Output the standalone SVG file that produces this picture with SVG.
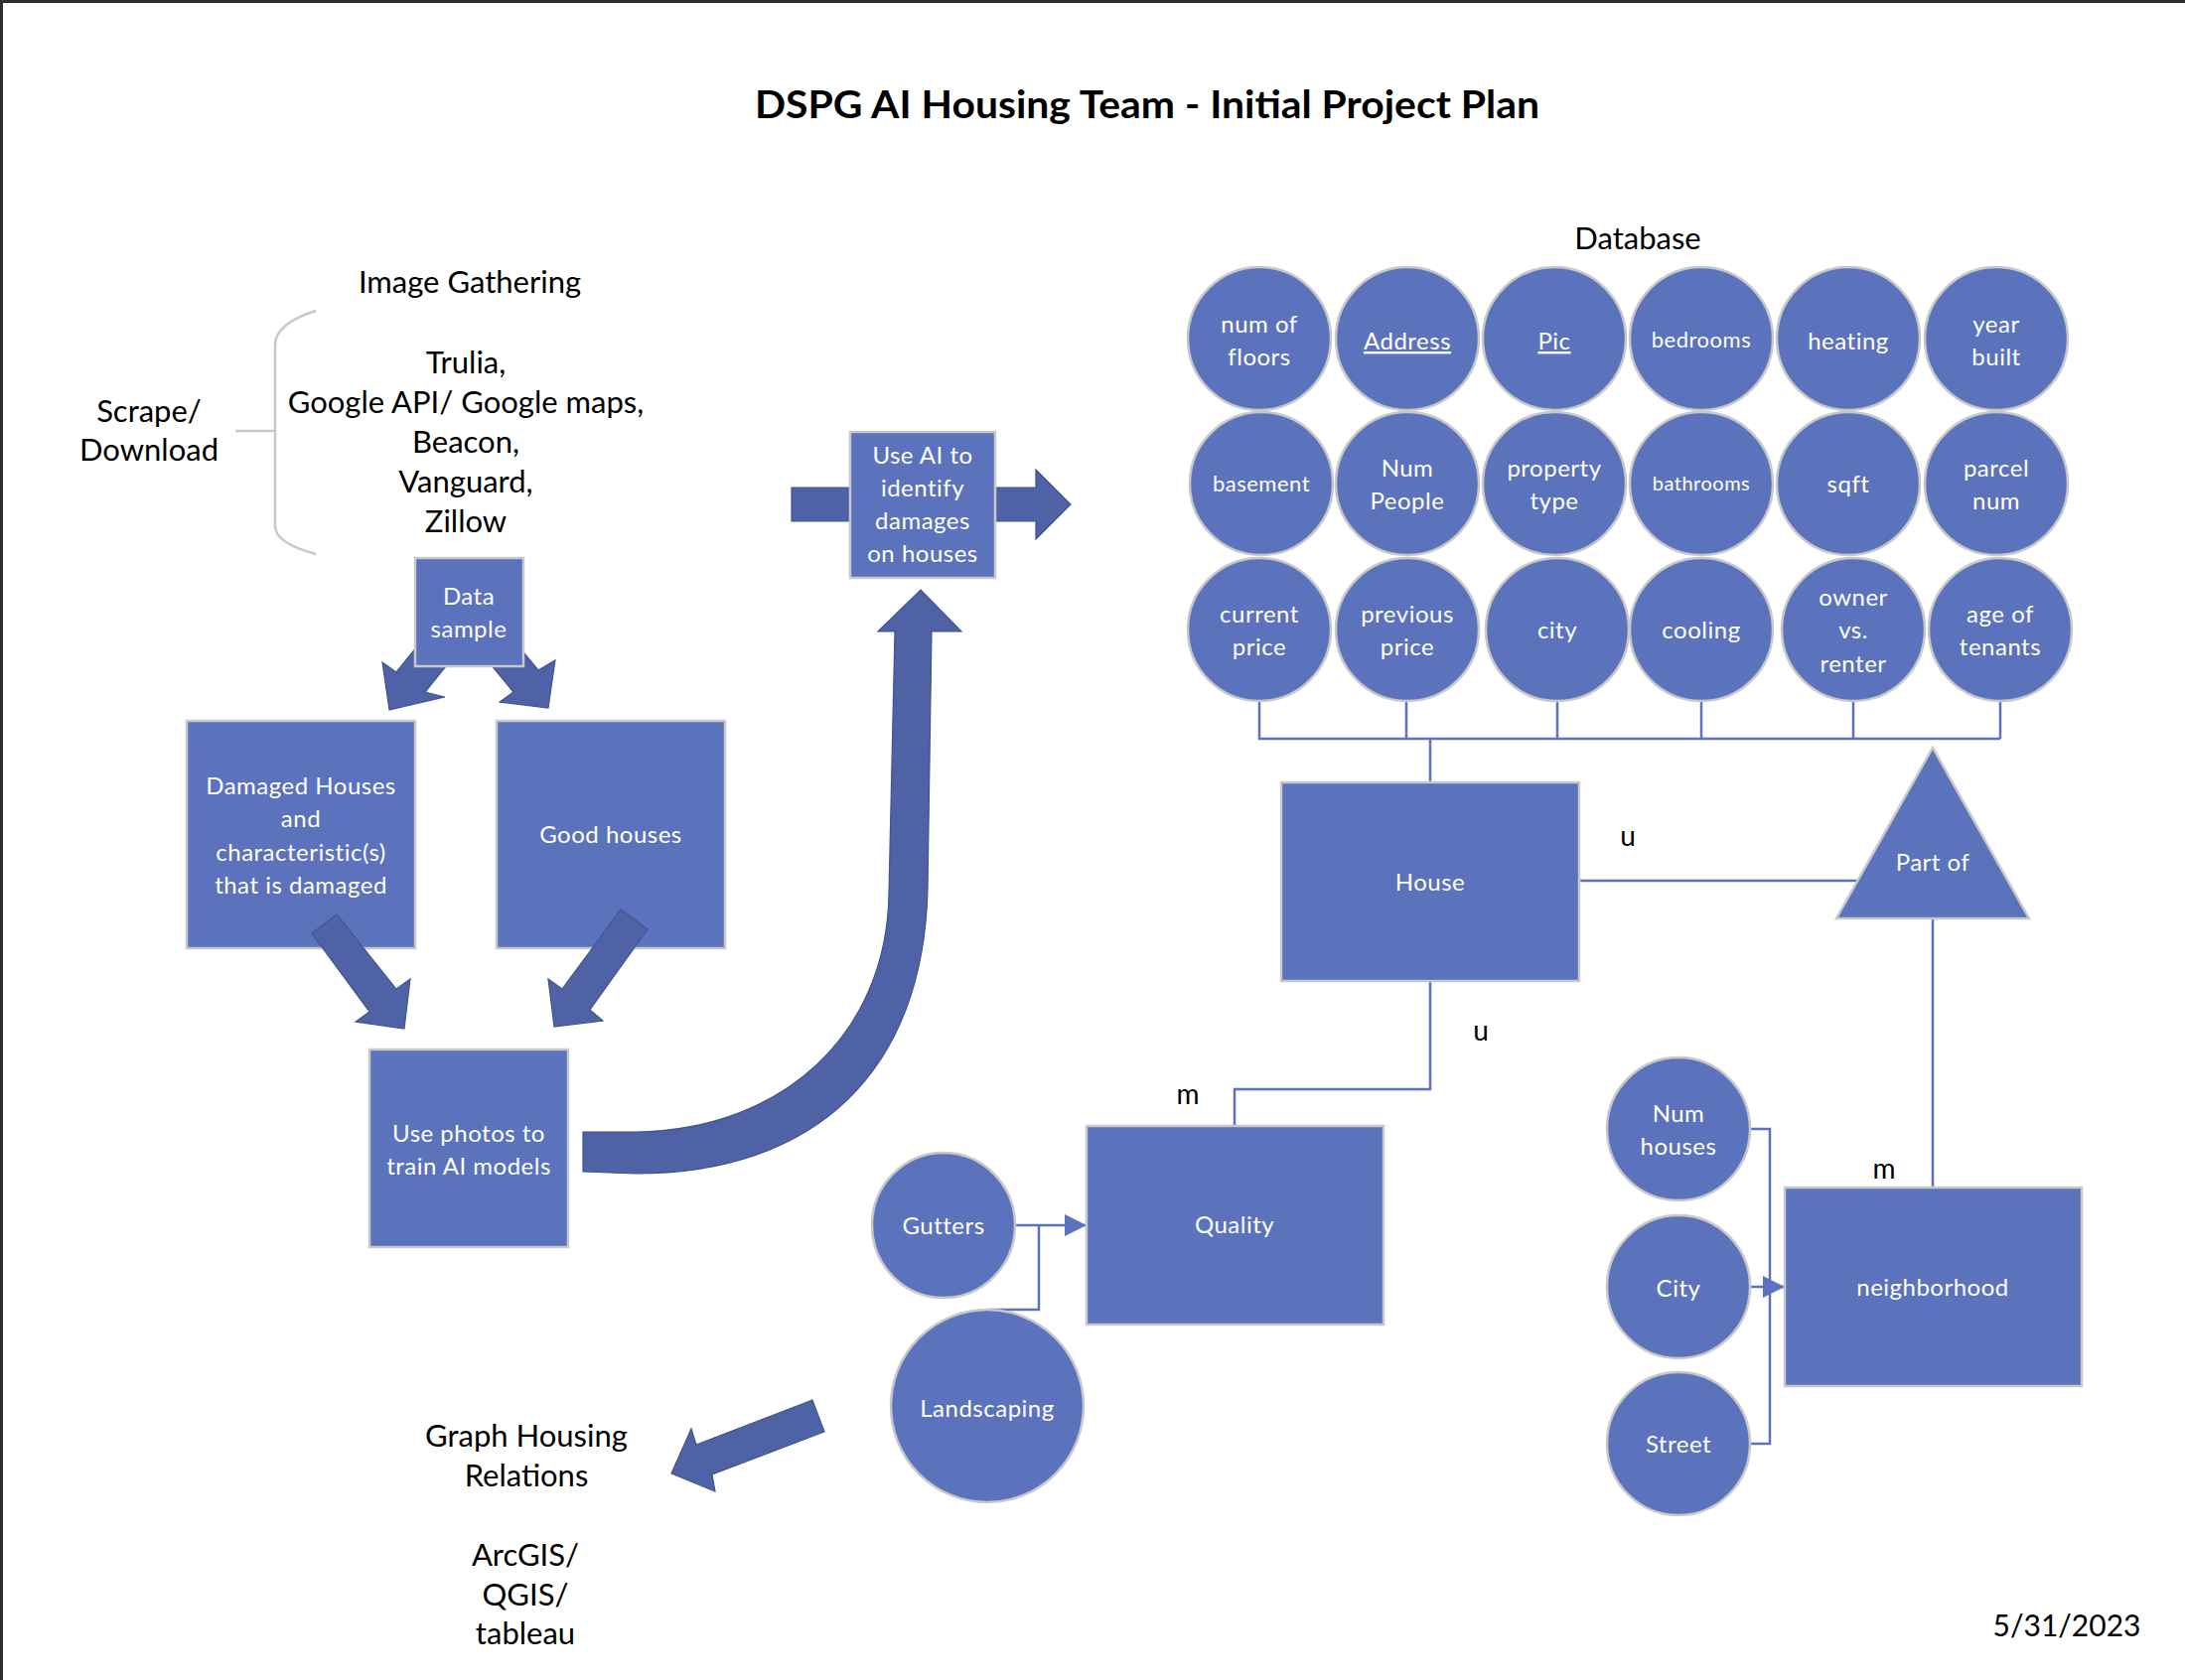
<svg xmlns="http://www.w3.org/2000/svg" width="2200" height="1692" viewBox="0 0 2200 1692">
<style>
.bg{fill:#ffffff}
.nd{fill:#5b72bd;stroke:#c8c8c8;stroke-width:2.5}
.ba{fill:#4f62a6;stroke:#42538f;stroke-width:1.2}
.cn{fill:none;stroke:#5b72bd;stroke-width:2.5}
.br{fill:none;stroke:#c8c8c8;stroke-width:2.5}
text{font-family:Lato,"Liberation Sans",sans-serif}
.t{fill:#000;font-size:31px;text-anchor:middle}
.w{fill:#fff;font-size:24px;text-anchor:middle;letter-spacing:0.5px}
.ws{fill:#fff;font-size:22px;text-anchor:middle;letter-spacing:0.5px}
.lb{fill:#000;font-size:28px;text-anchor:middle}
.u{text-decoration:underline}
</style>
<defs>
<marker id="ah" markerUnits="userSpaceOnUse" markerWidth="24" markerHeight="22" refX="22" refY="11" orient="auto">
<path d="M0,0 L22,11 L0,22 Z" fill="#5b72bd"/>
</marker>
</defs>
<rect class="bg" x="0" y="0" width="2200" height="1692"/>
<rect x="0" y="0" width="2200" height="3" fill="#2e2e2e"/>
<rect x="0" y="0" width="3" height="1692" fill="#2e2e2e"/>

<text x="1155" y="119" style="font-size:39px;font-weight:bold;text-anchor:middle" fill="#000" textLength="790" lengthAdjust="spacingAndGlyphs">DSPG AI Housing Team - Initial Project Plan</text>
<text class="t" x="1649" y="251">Database</text>

<g id="image-gathering">
<text class="t" x="473" y="295">Image Gathering</text>
<text class="t" x="469" y="376">Trulia,</text>
<text class="t" x="469" y="416">Google API/ Google maps,</text>
<text class="t" x="469" y="456">Beacon,</text>
<text class="t" x="469" y="496">Vanguard,</text>
<text class="t" x="469" y="536">Zillow</text>
<path class="br" d="M318,313 C292,321 277,333 277,347 L277,530 C277,542 292,551 318,558 M237,434 L277,434"/>
<text class="t" x="150" y="425">Scrape/</text>
<text class="t" x="150" y="464">Download</text>
</g>

<g id="damaged-houses">
<rect class="nd" x="188" y="726" width="230" height="229"/>
<text class="w" x="303" y="800">Damaged Houses</text>
<text class="w" x="303" y="833">and</text>
<text class="w" x="303" y="867">characteristic(s)</text>
<text class="w" x="303" y="900">that is damaged</text>
</g>
<g id="good-houses">
<rect class="nd" x="500" y="726" width="230" height="229"/>
<text class="w" x="615" y="849">Good houses</text>
</g>
<g id="use-photos">
<rect class="nd" x="372" y="1057" width="200" height="199"/>
<text class="w" x="472" y="1150">Use photos to</text>
<text class="w" x="472" y="1183">train AI models</text>
</g>

<g id="connectors">
<polygon class="ba" points="392,715 385,667 399,677 437,630 466,650 428,697 448,702"/>
<polygon class="ba" points="552,713 559,665 542,675 504,629 479,651 517,697 503,707"/>
<polygon class="ba" points="314,940 339,921 399,996 413,986 407,1036 358,1029 372,1019"/>
<polygon class="ba" points="652,936 594,1017 607,1028 558,1034 552,986 566,996 625,916"/>
<path class="ba" d="M587,1180 L587,1140 L640,1140 C790,1138 893,1040 895,900 L901,636 L884,636 L927,594 L968,636 L938,636 L934,895 C930,1080 820,1182 640,1182 Z"/>
<polygon class="ba" points="797,491 860,491 860,525 797,525"/>
<polygon class="ba" points="998,491 1043,491 1043,473 1078,508 1043,543 1043,525 998,525"/>
<polygon class="ba" points="818,1410 830,1442 717,1485 720,1502 676,1484 696,1439 701,1455"/>
<path class="cn" d="M1268,706 L1268,744 L2014,744 M1416,706 L1416,744 M1568,706 L1568,744 M1713,706 L1713,744 M1866,706 L1866,744 M2014,706 L2014,744 M1440,744 L1440,788"/>
<path class="cn" d="M1590,887 L1871,887"/>
<path class="cn" d="M1946,925 L1946,1196"/>
<path class="cn" d="M1440,988 L1440,1097 L1243,1097 L1243,1134"/>
<path class="cn" d="M1022,1234 L1094,1234" stroke-width="3.5" marker-end="url(#ah)"/>
<path class="cn" d="M1046,1234 L1046,1319 L995,1319"/>
<path class="cn" d="M1761,1137 L1782,1137 L1782,1454 L1761,1454"/>
<path class="cn" d="M1761,1296 L1797,1296" marker-end="url(#ah)"/>
</g>

<g id="data-sample">
<rect class="nd" x="418" y="562" width="109" height="109"/>
<text class="w" x="472" y="609">Data</text>
<text class="w" x="472" y="642">sample</text>
</g>
<g id="use-ai">
<rect class="nd" x="856" y="435" width="146" height="147"/>
<text class="w" x="929" y="467">Use AI to</text>
<text class="w" x="929" y="500">identify</text>
<text class="w" x="929" y="533">damages</text>
<text class="w" x="929" y="566">on houses</text>
</g>

<g id="attr-num-floors"><circle class="nd" cx="1268" cy="341" r="72"/><text class="w" x="1268" y="335">num of</text><text class="w" x="1268" y="368">floors</text></g>
<g id="attr-address"><circle class="nd" cx="1417" cy="341" r="72"/><text class="w u" x="1417" y="352">Address</text></g>
<g id="attr-pic"><circle class="nd" cx="1565" cy="341" r="72"/><text class="w u" x="1565" y="352">Pic</text></g>
<g id="attr-bedrooms"><circle class="nd" cx="1713" cy="341" r="72"/><text class="ws" x="1713" y="350">bedrooms</text></g>
<g id="attr-heating"><circle class="nd" cx="1861" cy="341" r="72"/><text class="w" x="1861" y="352">heating</text></g>
<g id="attr-year-built"><circle class="nd" cx="2010" cy="341" r="72"/><text class="w" x="2010" y="335">year</text><text class="w" x="2010" y="368">built</text></g>

<g id="attr-basement"><circle class="nd" cx="1270" cy="487" r="72"/><text class="ws" x="1270" y="495">basement</text></g>
<g id="attr-num-people"><circle class="nd" cx="1417" cy="487" r="72"/><text class="w" x="1417" y="480">Num</text><text class="w" x="1417" y="513">People</text></g>
<g id="attr-property-type"><circle class="nd" cx="1565" cy="487" r="72"/><text class="w" x="1565" y="480">property</text><text class="w" x="1565" y="513">type</text></g>
<g id="attr-bathrooms"><circle class="nd" cx="1713" cy="487" r="72"/><text class="ws" x="1713" y="494" style="font-size:20px">bathrooms</text></g>
<g id="attr-sqft"><circle class="nd" cx="1861" cy="487" r="72"/><text class="w" x="1861" y="496">sqft</text></g>
<g id="attr-parcel-num"><circle class="nd" cx="2010" cy="487" r="72"/><text class="w" x="2010" y="480">parcel</text><text class="w" x="2010" y="513">num</text></g>

<g id="attr-current-price"><circle class="nd" cx="1268" cy="634" r="72"/><text class="w" x="1268" y="627">current</text><text class="w" x="1268" y="660">price</text></g>
<g id="attr-previous-price"><circle class="nd" cx="1417" cy="634" r="72"/><text class="w" x="1417" y="627">previous</text><text class="w" x="1417" y="660">price</text></g>
<g id="attr-city"><circle class="nd" cx="1568" cy="634" r="72"/><text class="w" x="1568" y="643">city</text></g>
<g id="attr-cooling"><circle class="nd" cx="1713" cy="634" r="72"/><text class="w" x="1713" y="643">cooling</text></g>
<g id="attr-owner-renter"><circle class="nd" cx="1866" cy="634" r="72"/><text class="w" x="1866" y="610">owner</text><text class="w" x="1866" y="643">vs.</text><text class="w" x="1866" y="677">renter</text></g>
<g id="attr-age-tenants"><circle class="nd" cx="2014" cy="634" r="72"/><text class="w" x="2014" y="627">age of</text><text class="w" x="2014" y="660">tenants</text></g>

<g id="house"><rect class="nd" x="1290" y="788" width="300" height="200"/><text class="w" x="1440" y="897">House</text></g>
<g id="part-of"><polygon class="nd" points="1946,753 2043,925 1849,925"/><text class="w" x="1946" y="877">Part of</text></g>
<g id="quality"><rect class="nd" x="1094" y="1134" width="299" height="200"/><text class="w" x="1243" y="1242">Quality</text></g>
<g id="gutters"><ellipse class="nd" cx="950" cy="1234" rx="72" ry="73"/><text class="w" x="950" y="1243">Gutters</text></g>
<g id="landscaping"><ellipse class="nd" cx="994" cy="1416" rx="97" ry="97"/><text class="w" x="994" y="1427">Landscaping</text></g>
<g id="neighborhood"><rect class="nd" x="1797" y="1196" width="299" height="200"/><text class="w" x="1946" y="1305">neighborhood</text></g>
<g id="num-houses"><ellipse class="nd" cx="1690" cy="1137" rx="72" ry="72"/><text class="w" x="1690" y="1130">Num</text><text class="w" x="1690" y="1163">houses</text></g>
<g id="city"><ellipse class="nd" cx="1690" cy="1296" rx="72" ry="72"/><text class="w" x="1690" y="1306">City</text></g>
<g id="street"><ellipse class="nd" cx="1690" cy="1454" rx="72" ry="72"/><text class="w" x="1690" y="1463">Street</text></g>

<g id="labels">
<text class="lb" x="1639" y="852">u</text>
<text class="lb" x="1491" y="1048">u</text>
<text class="lb" x="1196" y="1112">m</text>
<text class="lb" x="1897" y="1187">m</text>
</g>

<g id="graph-housing">
<text class="t" x="530" y="1457">Graph Housing</text>
<text class="t" x="530" y="1497">Relations</text>
<text class="t" x="529" y="1577">ArcGIS/</text>
<text class="t" x="529" y="1617">QGIS/</text>
<text class="t" x="529" y="1656">tableau</text>
</g>
<text class="t" x="2081" y="1648" style="font-size:30px">5/31/2023</text>
</svg>
